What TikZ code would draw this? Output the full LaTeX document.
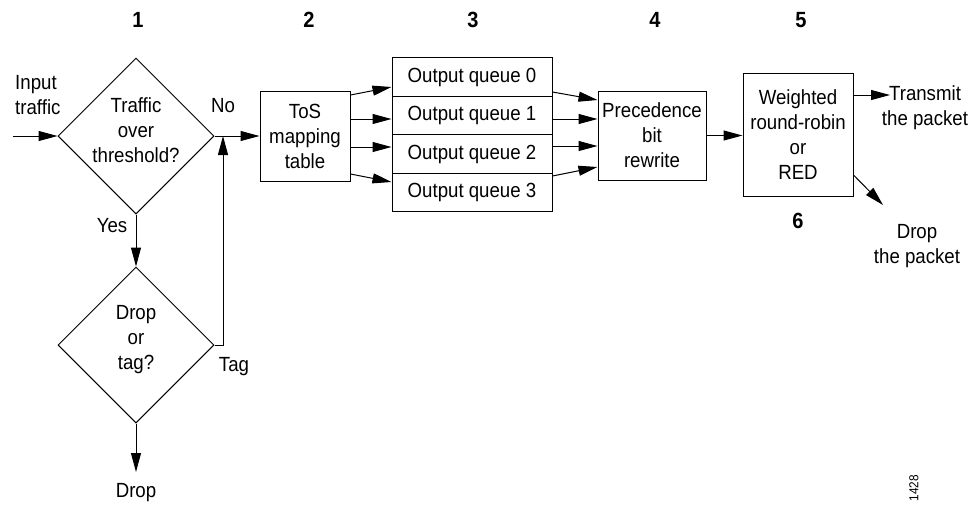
\documentclass[tikz,border=0pt]{standalone}
\usepackage{fontspec}
\setmainfont{Liberation Sans}[FakeStretch=0.91]
\usetikzlibrary{arrows.meta,shapes.geometric,calc}
\begin{document}
\begin{tikzpicture}[x=1pt,y=-1pt,
  lw/.style={line width=1pt},
  arr/.style={lw,-{Triangle[length=19pt,width=10pt]}},
  txt/.style={font=\fontsize{20.5}{25}\selectfont,align=center,inner sep=0pt},
  num/.style={font=\fontsize{22}{25}\selectfont\bfseries,inner sep=0pt},
  boxn/.style={draw,lw,inner sep=0pt,font=\fontsize{20.5}{25}\selectfont,align=center},
  dia/.style={draw,lw,diamond,aspect=1,minimum width=156pt,minimum height=156pt,inner sep=0pt}
]
\useasboundingbox (0,0) rectangle (979,507);

% step numbers
\node[num] (n1) at (138,20) {1};
\node[num] (n2) at (309,20) {2};
\node[num] (n3) at (473,20) {3};
\node[num] (n4) at (655,20) {4};
\node[num] (n5) at (801,20) {5};
\node[num] (n6) at (798,221) {6};

% decision diamonds
\node[dia] (d1) at (136,136) {};
\node[txt] (d1t) at (136,130) {Traffic\\over\\threshold?};
\node[dia] (d2) at (136,345) {};
\node[txt] (d2t) at (136,340) {Drop\\or\\tag?};

% boxes
\node[boxn,minimum width=90pt,minimum height=90pt] (tos) at (305,136) {ToS\\mapping\\table};
\node[boxn,minimum width=160pt,minimum height=38.5pt] (q0) at (472,77) {Output queue 0};
\node[boxn,minimum width=160pt,minimum height=38.5pt] (q1) at (472,115.5) {Output queue 1};
\node[boxn,minimum width=160pt,minimum height=38.5pt] (q2) at (472,154) {Output queue 2};
\node[boxn,minimum width=160pt,minimum height=38.5pt] (q3) at (472,192.5) {Output queue 3};
\node[boxn,minimum width=108pt,minimum height=89pt] (prec) at (652,135.5) {Precedence\\bit\\rewrite};
\node[boxn,minimum width=110pt,minimum height=123pt] (wrr) at (798,134.5) {Weighted\\round-robin\\or\\RED};

% labels
\node[txt,align=left,anchor=west] (intxt) at (15,95) {Input\\traffic};
\node[txt] (no) at (223,106) {No};
\node[txt] (yes) at (112,226) {Yes};
\node[txt] (tag) at (234,367) {Tag};
\node[txt] (drop) at (136,493) {Drop};
\node[txt] (trans) at (925,108) {Transmit\\the packet};
\node[txt] (dropp) at (917,246) {Drop\\the packet};
\node[font=\fontsize{13}{15}\selectfont,inner sep=0pt,rotate=90] (fig) at (914,488) {1428};

% coordinates
\coordinate (inp) at (13,136);
\coordinate (jn) at (223,136);
\coordinate (jt) at (223,345);
\coordinate (dropend) at (136,472);
\coordinate (txend) at (890,95);
\coordinate (dpend) at (883,205);

% connectors
\draw[arr] (inp) -- (d1.west);
\draw[arr] (d1.east) -- (tos.west);
\draw[arr] (d1.south) -- (d2.north);
\draw[arr] (d2.east) -- (jt) -- (jn);
\draw[arr] (d2.south) -- (dropend);

\draw[arr] ($(tos.east)+(0,-41)$) -- ($(q0.west)+(0,10)$);
\draw[arr] ($(tos.east)+(0,-17)$) -- ($(q1.west)+(0,3.5)$);
\draw[arr] ($(tos.east)+(0,11)$) -- ($(q2.west)+(0,-7)$);
\draw[arr] ($(tos.east)+(0,38)$) -- ($(q3.west)+(0,-10.5)$);

\draw[arr] ($(q0.east)+(0,15)$) -- ($(prec.west)+(0,-35.5)$);
\draw[arr] ($(q1.east)+(0,3.5)$) -- ($(prec.west)+(0,-16.5)$);
\draw[arr] ($(q2.east)+(0,-8)$) -- ($(prec.west)+(0,10.5)$);
\draw[arr] ($(q3.east)+(0,-16.5)$) -- ($(prec.west)+(0,31.5)$);

\draw[arr] (prec.east) -- (prec.east -| wrr.west);
\draw[arr] (wrr.east |- txend) -- (txend);
\draw[arr] (wrr.east |- 0,175) -- (dpend);
\end{tikzpicture}
\end{document}
